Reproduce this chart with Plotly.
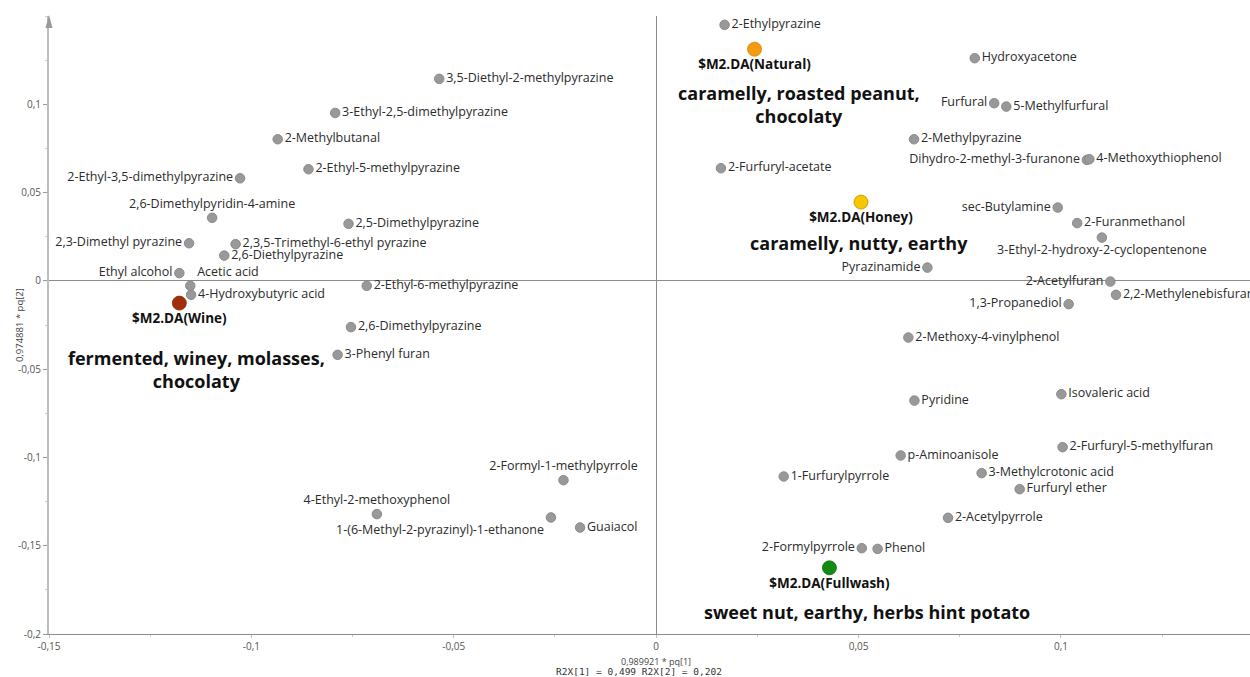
import plotly.graph_objects as go

# Loadings (variables) of the DA model, first two predictive components
compounds = [
    "2-Ethylpyrazine", "3,5-Diethyl-2-methylpyrazine", "3-Ethyl-2,5-dimethylpyrazine",
    "2-Methylbutanal", "2-Ethyl-5-methylpyrazine", "2-Ethyl-3,5-dimethylpyrazine",
    "2,6-Dimethylpyridin-4-amine", "2,5-Dimethylpyrazine", "2,3-Dimethyl pyrazine",
    "2,3,5-Trimethyl-6-ethyl pyrazine", "2,6-Diethylpyrazine", "Ethyl alcohol",
    "Acetic acid", "4-Hydroxybutyric acid", "2-Ethyl-6-methylpyrazine",
    "2,6-Dimethylpyrazine", "3-Phenyl furan", "4-Ethyl-2-methoxyphenol",
    "2-Formyl-1-methylpyrrole", "1-(6-Methyl-2-pyrazinyl)-1-ethanone", "Guaiacol",
    "1-Furfurylpyrrole", "2-Formylpyrrole", "Phenol", "2-Acetylpyrrole",
    "p-Aminoanisole", "3-Methylcrotonic acid", "Furfuryl ether",
    "2-Furfuryl-5-methylfuran", "Isovaleric acid", "Pyridine",
    "2-Methoxy-4-vinylphenol", "1,3-Propanediol", "2,2-Methylenebisfuran",
    "2-Acetylfuran", "Pyrazinamide", "3-Ethyl-2-hydroxy-2-cyclopentenone",
    "2-Furanmethanol", "sec-Butylamine", "Dihydro-2-methyl-3-furanone",
    "4-Methoxythiophenol", "2-Methylpyrazine", "Furfural", "5-Methylfurfural",
    "Hydroxyacetone", "2-Furfuryl-acetate",
]
pq1 = [
    0.0169, -0.0536, -0.0793, -0.0935, -0.0859, -0.1028, -0.1097, -0.0760, -0.1154,
    -0.1039, -0.1067, -0.1178, -0.1151, -0.1149, -0.0715, -0.0754, -0.0787, -0.0690,
    -0.0229, -0.0260, -0.0188, 0.0315, 0.0508, 0.0547, 0.0721, 0.0604, 0.0804, 0.0898,
    0.1004, 0.1001, 0.0638, 0.0623, 0.1019, 0.1136, 0.1122, 0.0670, 0.1101, 0.1040,
    0.0992, 0.1064, 0.1070, 0.0637, 0.0835, 0.0865, 0.0787, 0.0160,
]
pq2 = [
    0.1450, 0.1144, 0.0951, 0.0802, 0.0632, 0.0581, 0.0357, 0.0323, 0.0213, 0.0208,
    0.0143, 0.0044, -0.0028, -0.0079, -0.0028, -0.0262, -0.0419, -0.1321, -0.1129,
    -0.1340, -0.1397, -0.1108, -0.1514, -0.1518, -0.1342, -0.0989, -0.1089, -0.1180,
    -0.0942, -0.0642, -0.0678, -0.0321, -0.0132, -0.0079, -0.0004, 0.0075, 0.0245,
    0.0327, 0.0415, 0.0685, 0.0689, 0.0802, 0.1006, 0.0987, 0.1261, 0.0638,
]

# Class centroids ($M2.DA dummy variables) and their sensory descriptors
classes = ["Natural", "Honey", "Wine", "Fullwash"]
class_pq1 = [0.0243, 0.0506, -0.1178, 0.0428]
class_pq2 = [0.1312, 0.0446, -0.0126, -0.1625]
descriptors = [
    "caramelly, roasted peanut,<br>chocolaty",
    "caramelly, nutty, earthy",
    "fermented, winey, molasses,<br>chocolaty",
    "sweet nut, earthy, herbs hint potato",
]

x_ticks = [-0.15, -0.1, -0.05, 0, 0.05, 0.1]
x_tick_labels = ["-0,15", "-0,1", "-0,05", "0", "0,05", "0,1"]
y_ticks = [-0.2, -0.15, -0.1, -0.05, 0, 0.05, 0.1]
y_tick_labels = ["-0,2", "-0,15", "-0,1", "-0,05", "0", "0,05", "0,1"]

# Label placement relative to each marker (default: right of the dot)
label_side = {
    "2-Ethyl-3,5-dimethylpyrazine": "middle left",
    "2,3-Dimethyl pyrazine": "middle left",
    "Ethyl alcohol": "middle left",
    "Furfural": "middle left",
    "Dihydro-2-methyl-3-furanone": "middle left",
    "sec-Butylamine": "middle left",
    "Pyrazinamide": "middle left",
    "2-Acetylfuran": "middle left",
    "1,3-Propanediol": "middle left",
    "2-Formylpyrrole": "middle left",
    "Acetic acid": "top right",
    "2,6-Dimethylpyridin-4-amine": "top center",
    "4-Ethyl-2-methoxyphenol": "top center",
    "2-Formyl-1-methylpyrrole": "top center",
    "1-(6-Methyl-2-pyrazinyl)-1-ethanone": "bottom left",
    "3-Ethyl-2-hydroxy-2-cyclopentenone": "bottom center",
}
class_colors = {"Natural": "#f39c12", "Honey": "#f7c600", "Wine": "#a0300c", "Fullwash": "#138a13"}
class_edges = {"Natural": "#d98400", "Honey": "#b89000", "Wine": "#8a2808", "Fullwash": "#0f6f0f"}
descriptor_pos = {
    "Natural": (0.0352, 0.0997),
    "Honey": (0.0500, 0.0215),
    "Wine": (-0.1136, -0.0504),
    "Fullwash": (0.0522, -0.1873),
}

FONT = "Segoe UI, Open Sans, sans-serif"
label_color = "#2b2b2b"

fig = go.Figure()

fig.add_trace(go.Scatter(
    x=pq1, y=pq2, mode="markers+text", text=compounds,
    textposition=[label_side.get(c, "middle right") for c in compounds],
    textfont=dict(family=FONT, size=12.5, color=label_color),
    marker=dict(size=9.5, color="#999999", line=dict(color="#8a8a8a", width=1)),
    hoverinfo="text", showlegend=False, cliponaxis=False,
))

fig.add_trace(go.Scatter(
    x=class_pq1, y=class_pq2, mode="markers+text",
    text=["<b>$M2.DA(%s)</b>" % c for c in classes],
    textposition="bottom center",
    textfont=dict(family=FONT, size=13.5, color="#111111"),
    marker=dict(size=14, color=[class_colors[c] for c in classes],
                line=dict(color=[class_edges[c] for c in classes], width=0.8)),
    hoverinfo="text", showlegend=False, cliponaxis=False,
))

for c, d in zip(classes, descriptors):
    dx, dy = descriptor_pos[c]
    fig.add_annotation(x=dx, y=dy, text="<b>%s</b>" % d, showarrow=False,
                       font=dict(family=FONT, size=18, color="#111111"),
                       xanchor="center", yanchor="middle", align="center")

# arrow head on top of the vertical axis
fig.add_shape(type="path", xref="paper", yref="paper",
              xsizemode="pixel", ysizemode="pixel", xanchor=0, yanchor=1,
              path="M -3.5,-12 L 0,1 L 3.5,-12 Z",
              fillcolor="#9a9a9a", line=dict(width=0))

# axis titles
fig.add_annotation(xref="paper", yref="paper", x=-0.032, y=0.5, textangle=-90,
                   text="0,974881 * pq[2]", showarrow=False,
                   font=dict(family=FONT, size=9.5, color="#444444"))
fig.add_annotation(x=0, yref="paper", y=-0.0437, yanchor="middle", borderpad=0,
                   text="0,989921 * pq[1]", showarrow=False,
                   font=dict(family=FONT, size=9, color="#444444"))
fig.add_annotation(x=-0.0042, yref="paper", y=-0.0605, yanchor="middle", borderpad=0,
                   text="R2X[1] = 0,499 R2X[2] = 0,202", showarrow=False,
                   font=dict(family="DejaVu Sans Mono, monospace", size=9.5, color="#333333"))

fig.update_layout(
    width=1250, height=677,
    margin=dict(l=49, r=0, t=16, b=43),
    paper_bgcolor="white", plot_bgcolor="white",
    xaxis=dict(
        range=[-0.15, 0.1467], tickvals=x_ticks, ticktext=x_tick_labels,
        showgrid=False, zeroline=True, zerolinecolor="#8c8c8c", zerolinewidth=1,
        showline=True, linecolor="#8c8c8c", linewidth=1,
        ticks="outside", ticklen=3, tickcolor="#bdbdbd",
        minor=dict(dtick=0.025, tick0=0, ticks="outside", ticklen=2, tickcolor="#cccccc"),
        tickfont=dict(family=FONT, size=10, color="#555555"),
    ),
    yaxis=dict(
        range=[-0.2, 0.15], tickvals=y_ticks, ticktext=y_tick_labels,
        showgrid=False, zeroline=True, zerolinecolor="#8c8c8c", zerolinewidth=1,
        showline=True, linecolor="#bdbdbd", linewidth=2,
        ticks="outside", ticklen=4, tickcolor="#9a9a9a",
        minor=dict(dtick=0.025, tick0=0, ticks="outside", ticklen=2, tickcolor="#cccccc"),
        tickfont=dict(family=FONT, size=10, color="#555555"),
    ),
)

fig.write_html("out.html")
